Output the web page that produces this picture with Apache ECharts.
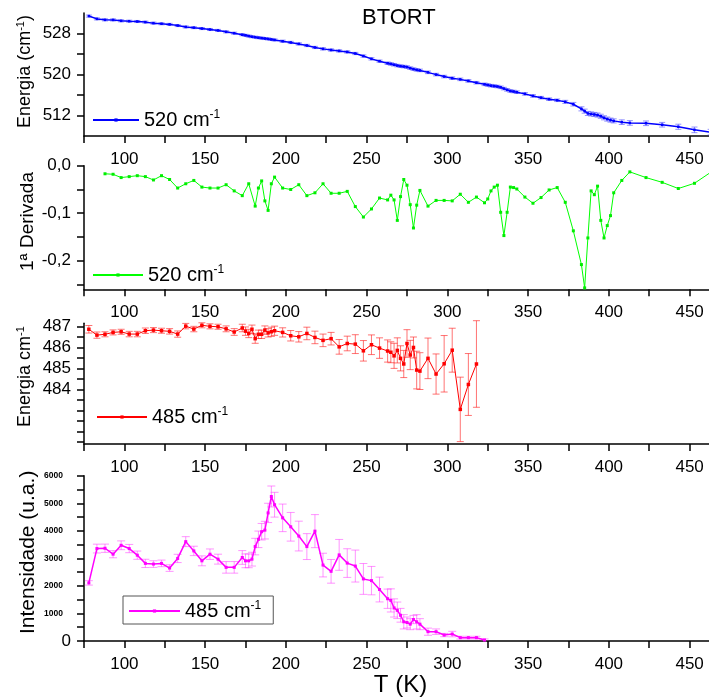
<!DOCTYPE html>
<html>
<head>
<meta charset="utf-8">
<script src="https://cdn.jsdelivr.net/npm/echarts@6/dist/echarts.min.js"></script>
<style>
  html, body { margin: 0; padding: 0; background: #fff; }
  #chart { width: 709px; height: 698px; }
</style>
</head>
<body>
<div id="chart"></div>
<script>
// Temperature steps (K) of the Raman run
const temps = [
  78, 83, 88, 93, 98, 103, 108, 113, 118, 123, 128, 133, 138, 143, 148, 153, 158, 163, 168, 173,
  175, 177, 179, 181, 183, 185, 187, 189, 191, 193,
  198, 203, 208, 213, 218, 223, 228, 233, 238, 243, 248, 253, 258,
  263, 265, 267, 269, 271, 273, 275, 277, 279, 281, 283,
  288, 293, 298, 303, 308, 313, 318, 323,
  325, 327, 329, 331, 333, 335, 337, 339, 341, 343,
  348, 353, 358, 363, 368, 373, 378, 383,
  385, 387, 389, 391, 393, 395, 397, 399, 401, 403,
  408, 413, 423, 433, 443, 453, 463
];

// 520 cm-1 band position (cm-1) and its uncertainty
const energy520 = [
  531.40, 530.85, 530.66, 530.65, 530.47, 530.40, 530.34, 530.22, 530.02, 529.90, 529.78, 529.55, 529.28, 529.14, 528.96, 528.78, 528.60, 528.32, 528.06, 527.76,
  527.64, 527.50, 527.37, 527.28, 527.18, 527.10, 527.02, 526.94, 526.84, 526.74,
  526.49, 526.25, 525.97, 525.66, 525.28, 525.00, 524.78, 524.60, 524.40, 524.10, 523.60, 523.05, 522.60,
  522.20, 522.06, 521.90, 521.74, 521.63, 521.55, 521.45, 521.24, 521.05, 520.90, 520.80,
  520.42, 519.98, 519.60, 519.28, 519.05, 518.75, 518.40, 518.08,
  517.95, 517.82, 517.74, 517.65, 517.50, 517.25, 517.00, 516.78, 516.68, 516.55,
  516.22, 515.82, 515.48, 515.18, 514.97, 514.66, 514.20, 513.30,
  512.85, 512.40, 512.30, 512.20, 512.08, 511.85, 511.55, 511.30, 511.10, 510.95,
  510.70, 510.55, 510.48, 510.20, 509.80, 509.20, 508.75
];
const energy520Err = [
  0.2, 0.2, 0.2, 0.2, 0.2, 0.2, 0.2, 0.2, 0.2, 0.2, 0.2, 0.2, 0.2, 0.2, 0.2, 0.2, 0.2, 0.2, 0.2, 0.2,
  0.2, 0.2, 0.2, 0.2, 0.2, 0.2, 0.2, 0.2, 0.2, 0.2,
  0.22, 0.22, 0.22, 0.22, 0.22, 0.22, 0.22, 0.22, 0.22, 0.22, 0.22, 0.22, 0.22,
  0.25, 0.25, 0.25, 0.25, 0.25, 0.25, 0.25, 0.25, 0.25, 0.25, 0.25,
  0.25, 0.25, 0.25, 0.25, 0.25, 0.25, 0.25, 0.25,
  0.25, 0.25, 0.25, 0.25, 0.25, 0.25, 0.25, 0.25, 0.25, 0.25,
  0.25, 0.25, 0.25, 0.25, 0.25, 0.3, 0.35, 0.4,
  0.4, 0.4, 0.4, 0.4, 0.4, 0.4, 0.4, 0.4, 0.4, 0.4,
  0.45, 0.45, 0.45, 0.45, 0.5, 0.55, 0.55
];

// First derivative of the 520 cm-1 position
const derivTemps = [
  88, 93, 98, 103, 108, 113, 118, 123, 128, 133, 138, 143, 148, 153, 158, 163, 168, 173,
  177, 181, 183, 185, 187, 189, 191, 193,
  198, 203, 208, 213, 218, 223, 228, 233, 238, 243, 248, 253, 258,
  263, 265, 267, 269, 271, 273, 275, 277, 279, 281, 283,
  288, 293, 298, 303, 308, 313, 318, 323,
  325, 327, 329, 331, 333, 335, 337, 339, 341, 343,
  348, 353, 358, 363, 368, 373, 378, 383,
  385, 387, 389, 391, 393, 395, 397, 399, 401, 403,
  408, 413, 423, 433, 443, 453, 463
];
const deriv520 = [
  -0.017, -0.018, -0.025, -0.023, -0.021, -0.023, -0.030, -0.021, -0.029, -0.047, -0.038, -0.031, -0.045, -0.047, -0.047, -0.040, -0.053, -0.063,
  -0.038, -0.085, -0.047, -0.032, -0.074, -0.094, -0.038, -0.024,
  -0.047, -0.050, -0.040, -0.063, -0.057, -0.038, -0.058, -0.058, -0.054, -0.086, -0.108, -0.091, -0.068,
  -0.072, -0.062, -0.072, -0.115, -0.065, -0.029, -0.041, -0.082, -0.131, -0.083, -0.052,
  -0.085, -0.073, -0.073, -0.074, -0.060, -0.077, -0.066, -0.078,
  -0.070, -0.053, -0.045, -0.041, -0.098, -0.147, -0.098, -0.045, -0.046, -0.049,
  -0.066, -0.079, -0.067, -0.051, -0.046, -0.077, -0.137, -0.208,
  -0.257, -0.152, -0.053, -0.061, -0.043, -0.115, -0.152, -0.126, -0.105, -0.057,
  -0.031, -0.013, -0.025, -0.035, -0.048, -0.037, -0.014
];

// 485 cm-1 band: temperatures, position (cm-1) and intensity (u.a.)
const temps485 = [
  78, 83, 88, 93, 98, 103, 108, 113, 118, 123, 128, 133, 138, 143, 148, 153, 158, 163, 168, 173,
  175, 177, 179, 181, 183, 185, 187, 189, 191, 193,
  198, 203, 208, 213, 218, 223, 228, 233, 238, 243, 248, 253, 258,
  263, 265, 267, 269, 271, 273, 275, 277, 279, 281, 283,
  288, 293, 298, 303, 308, 313, 318, 323
];
const energy485 = [
  486.88, 486.60, 486.64, 486.73, 486.76, 486.65, 486.65, 486.81, 486.84, 486.81, 486.78, 486.65, 487.03, 486.89, 487.07, 487.02, 487.00, 486.90, 486.75, 486.94,
  486.79, 486.68, 486.88, 486.43, 486.64, 486.64, 486.84, 486.71, 486.76, 486.81,
  486.73, 486.57, 486.52, 486.68, 486.49, 486.35, 486.43, 486.04, 486.20, 486.17, 485.85, 486.14, 485.98,
  485.84, 485.78, 485.61, 485.87, 485.49, 485.22, 486.20, 485.65, 486.01, 484.93, 484.88,
  485.49, 484.74, 485.23, 485.88, 483.05, 484.24, 485.22
];
const energy485Err = [
  0.18, 0.15, 0.12, 0.12, 0.12, 0.13, 0.13, 0.13, 0.12, 0.12, 0.13, 0.15, 0.13, 0.13, 0.12, 0.12, 0.12, 0.14, 0.16, 0.18,
  0.2, 0.2, 0.2, 0.22, 0.2, 0.2, 0.2, 0.2, 0.22, 0.22,
  0.22, 0.25, 0.25, 0.3, 0.3, 0.3, 0.3, 0.35, 0.35, 0.45, 0.49, 0.47, 0.49,
  0.53, 0.5, 0.6, 0.6, 0.6, 0.65, 0.66, 0.7, 0.5, 0.9, 0.88,
  0.97, 0.96, 1.35, 1.05, 1.54, 1.48, 2.07
];
const intensity485 = [
  2109, 3355, 3367, 3151, 3474, 3355, 3115, 2817, 2792, 2817, 2648, 2997, 3607, 3270, 2910, 3151, 2971, 2673, 2673, 3032,
  2910, 2910, 2971, 3427, 3690, 3967, 4024, 4649, 5246, 4947,
  4470, 4146, 3809, 3427, 3988, 2756, 2529, 3126, 2828, 2720, 2253, 2192, 1868,
  1534, 1473, 1200, 1114, 934, 697, 672, 611, 780, 697, 611,
  338, 338, 216, 252, 122, 122, 122, 36
];
const intensity485Err = [
  80, 160, 150, 130, 160, 150, 150, 150, 120, 120, 120, 150, 180, 170, 180, 190, 180, 210, 210, 250,
  250, 250, 250, 300, 300, 300, 320, 350, 380, 450,
  500, 520, 540, 470, 600, 430, 430, 560, 520, 580, 560, 515, 450,
  350, 420, 330, 300, 250, 260, 200, 200, 150, 260, 200,
  130, 100, 60, 100, 50, 50, 50, 40
];

// Axis ticks and labels
const tempLabels = [100, 150, 200, 250, 300, 350, 400, 450];
const tempTicks = [75, 100, 125, 150, 175, 200, 225, 250, 275, 300, 325, 350, 375, 400, 425, 450];
const e520Labels = [512, 520, 528];
const e520Ticks = [512, 516, 520, 524, 528];
const derivLabels = [0, -0.1, -0.2];
const derivTicks = [0, -0.05, -0.1, -0.15, -0.2, -0.25];
const e485Labels = [484, 485, 486, 487];
const e485Ticks = [481.5, 482, 482.5, 483, 483.5, 484, 484.5, 485, 485.5, 486, 486.5, 487];
const intLabels = [0, 1000, 2000, 3000, 4000, 5000, 6000];
const intTicks = [0, 500, 1000, 1500, 2000, 2500, 3000, 3500, 4000, 4500, 5000, 5500, 6000];

const FONT = "'Liberation Sans', Arial, Helvetica, sans-serif";
const supRich = {
  t: { fontSize: 18, lineHeight: 20, fontFamily: FONT, color: '#000' },
  s: { fontSize: 11, lineHeight: 11, verticalAlign: 'top', fontFamily: FONT, color: '#000' }
};
const legendRich = {
  n: { fontSize: 20, lineHeight: 22, fontFamily: FONT, color: '#000' },
  s: { fontSize: 12, lineHeight: 12, verticalAlign: 'top', fontFamily: FONT, color: '#000' }
};

const grids = [
  { left: 84, right: 0, top: 13, height: 123 },
  { left: 84, right: 0, top: 165.7, height: 123.6 },
  { left: 84, right: 0, top: 323.2, height: 120.7 },
  { left: 84, right: 0, top: 475.7, height: 167 }
];

function tempAxis(gridIndex, extra) {
  return Object.assign({
    gridIndex: gridIndex,
    type: 'value',
    min: 75,
    max: 462,
    axisLine: { show: true, onZero: false, lineStyle: { color: '#000', width: 1.5 } },
    axisTick: { show: true, length: 7, customValues: tempTicks, lineStyle: { color: '#000', width: 1.5 } },
    axisLabel: { customValues: tempLabels, margin: 15, fontSize: 17, color: '#000', fontFamily: FONT },
    splitLine: { show: false }
  }, extra || {});
}

function valueAxis(gridIndex, min, max, labels, ticks, extra) {
  return Object.assign({
    gridIndex: gridIndex,
    type: 'value',
    min: min,
    max: max,
    axisLine: { show: true, onZero: false, lineStyle: { color: '#000', width: 1.5 } },
    axisTick: { show: true, length: 7, customValues: ticks, lineStyle: { color: '#000', width: 1.5 } },
    axisLabel: { customValues: labels, margin: 13, fontSize: 17, color: '#000', fontFamily: FONT },
    splitLine: { show: false },
    nameLocation: 'middle',
    nameRotate: 90,
    nameMoveOverlap: false
  }, extra || {});
}

// Vertical error bar with caps, drawn through the axis scales
function errorBars(capHalf) {
  return function (params, api) {
    const x = api.value(0);
    const lo = api.coord([x, api.value(1)]);
    const hi = api.coord([x, api.value(2)]);
    const style = { stroke: api.visual('color'), lineWidth: 1 };
    return {
      type: 'group',
      children: [
        { type: 'line', shape: { x1: lo[0], y1: lo[1], x2: hi[0], y2: hi[1] }, style: style },
        { type: 'line', shape: { x1: lo[0] - capHalf, y1: lo[1], x2: lo[0] + capHalf, y2: lo[1] }, style: style },
        { type: 'line', shape: { x1: hi[0] - capHalf, y1: hi[1], x2: hi[0] + capHalf, y2: hi[1] }, style: style }
      ]
    };
  };
}

function errData(xs, vals, errs) {
  return vals.map((v, i) => [xs[i], v - errs[i], v + errs[i]]);
}
function pairs(xs, vals) {
  return vals.map((v, i) => [xs[i], v]);
}

const legendBase = {
  orient: 'horizontal',
  selectedMode: false,
  itemHeight: 4,
  padding: 0,
  textStyle: { rich: legendRich }
};

const option = {
  animation: false,
  backgroundColor: '#fff',
  title: {
    text: 'BTORT',
    left: 362,
    top: 7,
    padding: 0,
    textStyle: { fontSize: 22, fontWeight: 'normal', color: '#000', fontFamily: FONT }
  },
  grid: grids,
  xAxis: [
    tempAxis(0),
    tempAxis(1),
    tempAxis(2),
    tempAxis(3, {
      name: 'T (K)',
      nameLocation: 'middle',
      nameGap: 32,
      nameMoveOverlap: false,
      nameTextStyle: { fontSize: 24, color: '#000', fontFamily: FONT, padding: [0, 0, 0, 8] }
    })
  ],
  yAxis: [
    valueAxis(0, 508, 532, e520Labels, e520Ticks, {
      name: '{t|Energia (cm}{s|-1}{t|)}',
      nameGap: 49,
      nameTextStyle: { rich: supRich, padding: [0, 0, 0, 6] }
    }),
    valueAxis(1, -0.26, 0, derivLabels, derivTicks, {
      name: '1ª Derivada',
      nameGap: 47,
      nameTextStyle: { fontSize: 19, color: '#000', fontFamily: FONT, padding: [0, 0, 0, 12] },
      axisLabel: {
        customValues: derivLabels, margin: 13, fontSize: 17, color: '#000', fontFamily: FONT,
        formatter: v => v.toFixed(1).replace('.', ',')
      }
    }),
    valueAxis(2, 481.4, 487.17, e485Labels, e485Ticks, {
      name: '{t|Energia cm}{s|-1}',
      nameGap: 49,
      nameTextStyle: { rich: supRich, padding: [0, 0, 0, 14] }
    }),
    valueAxis(3, 0, 6000, intLabels, intTicks, {
      name: 'Intensidade (u.a.)',
      nameGap: 45,
      nameTextStyle: { fontSize: 21, color: '#000', fontFamily: FONT, padding: [0, 0, 0, 12] },
      axisLabel: {
        customValues: intLabels, margin: 13, color: '#000', fontFamily: FONT,
        formatter: v => (v === 0 ? '{b|0}' : '{m|' + v + '}'),
        rich: {
          b: { fontSize: 17, fontFamily: FONT, color: '#000' },
          m: { fontSize: 8.5, fontWeight: 'bold', fontFamily: FONT, color: '#000', padding: [0, 8, 0, 0] }
        }
      }
    })
  ],
  legend: [
    Object.assign({}, legendBase, {
      data: ['E520'], left: 92, top: 109, itemWidth: 46,
      formatter: () => '{n|520 cm}{s|-1}'
    }),
    Object.assign({}, legendBase, {
      data: ['D520'], left: 92, top: 264, itemWidth: 50,
      formatter: () => '{n|520 cm}{s|-1}'
    }),
    Object.assign({}, legendBase, {
      data: ['E485'], left: 96, top: 406, itemWidth: 50,
      formatter: () => '{n|485 cm}{s|-1}'
    }),
    Object.assign({}, legendBase, {
      data: ['I485'], left: 123, top: 596, itemWidth: 51,
      padding: [4, 12, 3, 5],
      borderColor: '#555', borderWidth: 1,
      formatter: () => '{n|485 cm}{s|-1}'
    })
  ],
  series: [
    {
      type: 'custom', name: 'E520 err', xAxisIndex: 0, yAxisIndex: 0,
      renderItem: errorBars(3), clip: true, z: 1,
      itemStyle: { color: 'rgba(60,60,255,0.55)' },
      encode: { x: 0, y: [1, 2] },
      data: errData(temps, energy520, energy520Err)
    },
    {
      type: 'line', name: 'E520', xAxisIndex: 0, yAxisIndex: 0, z: 2, clip: true,
      symbol: 'rect', symbolSize: 2.5,
      lineStyle: { color: '#0000ff', width: 1.5 },
      itemStyle: { color: '#0000ff' },
      data: pairs(temps, energy520)
    },
    {
      type: 'line', name: 'D520', xAxisIndex: 1, yAxisIndex: 1, z: 2, clip: true,
      symbol: 'rect', symbolSize: 3,
      lineStyle: { color: '#00ff00', width: 1 },
      itemStyle: { color: '#00ee00' },
      data: pairs(derivTemps, deriv520)
    },
    {
      type: 'custom', name: 'E485 err', xAxisIndex: 2, yAxisIndex: 2,
      renderItem: errorBars(3.5), clip: false, z: 1,
      itemStyle: { color: 'rgba(255,40,40,0.65)' },
      encode: { x: 0, y: [1, 2] },
      data: errData(temps485, energy485, energy485Err)
    },
    {
      type: 'line', name: 'E485', xAxisIndex: 2, yAxisIndex: 2, z: 2, clip: true,
      symbol: 'rect', symbolSize: 3.5,
      lineStyle: { color: '#ff0000', width: 1 },
      itemStyle: { color: '#ff0000' },
      data: pairs(temps485, energy485)
    },
    {
      type: 'custom', name: 'I485 err', xAxisIndex: 3, yAxisIndex: 3,
      renderItem: errorBars(4), clip: true, z: 1,
      itemStyle: { color: 'rgba(255,60,255,0.55)' },
      encode: { x: 0, y: [1, 2] },
      data: errData(temps485, intensity485, intensity485Err)
    },
    {
      type: 'line', name: 'I485', xAxisIndex: 3, yAxisIndex: 3, z: 2, clip: true,
      symbol: 'rect', symbolSize: 3,
      lineStyle: { color: '#ff00ff', width: 1.5 },
      itemStyle: { color: '#ff00ff' },
      data: pairs(temps485, intensity485)
    }
  ]
};

const chart = echarts.init(document.getElementById('chart'), null, { renderer: 'canvas' });
chart.setOption(option);
</script>
</body>
</html>
